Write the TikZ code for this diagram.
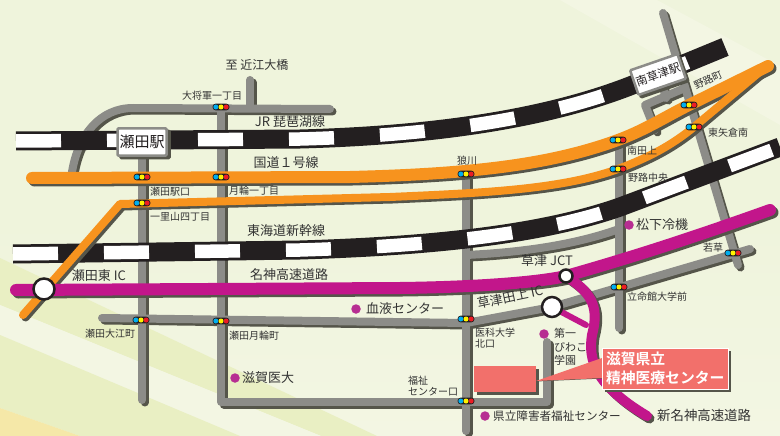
\documentclass[tikz,border=0pt]{standalone}
\usepackage{fontspec}
\setmainfont{Noto Sans CJK JP}[BoldFont={Noto Sans CJK JP Bold}]
\definecolor{bgbase}{HTML}{EFF4DC}
\definecolor{bglight}{HTML}{F3F6E3}
\definecolor{bgband}{HTML}{E9EFC3}
\definecolor{bgyellow}{HTML}{F5E8A8}
\definecolor{roadgray}{HTML}{8C8C88}
\definecolor{shadowgray}{HTML}{55554A}
\definecolor{railblack}{HTML}{231F20}
\definecolor{roadorange}{HTML}{F7931E}
\definecolor{roadmagenta}{HTML}{C2168B}
\definecolor{dotmagenta}{HTML}{B72E92}
\definecolor{calloutred}{HTML}{F2706B}
\definecolor{labelink}{HTML}{333333}
\definecolor{sigblue}{HTML}{00AEEF}
\definecolor{sigyellow}{HTML}{FFF200}
\definecolor{sigred}{HTML}{ED1C24}
\tikzset{
  x=1pt,y=-1pt,
  roadline/.style={line width=8pt,line cap=round,line join=round,draw=roadgray},
  roadshadow/.style={line width=8pt,line cap=round,line join=round,draw=shadowgray,xshift=2.5pt,yshift=-2.5pt},
  railbase/.style={line width=19pt,draw=railblack},
  railwhite/.style={line width=13.5pt,draw=white,dash pattern=on 45pt off 46pt},
  orangeroad/.style={line width=12pt,line cap=round,line join=round,draw=roadorange},
  orangethin/.style={line width=8pt,line cap=round,line join=round,draw=roadorange},
  darkshadow/.style={draw=shadowgray,xshift=2.5pt,yshift=-2.5pt},
  magroad/.style={line width=12pt,line cap=round,line join=round,draw=roadmagenta},
  magthin/.style={line width=10pt,line cap=round,line join=round,draw=roadmagenta},
  tl/.style={font=\fontsize{10}{11}\selectfont,text=labelink,inner sep=0pt},
  ml/.style={font=\fontsize{13}{14}\selectfont,text=labelink,inner sep=0pt},
  spot/.style={circle,fill=dotmagenta,minimum size=9.5pt,inner sep=0pt},
  ic/.style={circle,fill=white,draw=railblack,line width=2.5pt,inner sep=0pt},
  stationbox/.style={draw=roadgray,line width=2.5pt,fill=white,rounded corners=1pt,inner sep=0pt,font=\fontsize{15}{16}\selectfont,text=railblack},
}
\newcommand{\sigl}[2]{%
  \fill[railblack,rounded corners=3.3pt] (#1-8.5,#2-3.4) rectangle (#1+8.5,#2+3.4);
  \fill[sigblue] (#1-5.2,#2) circle (2.5pt);
  \fill[sigyellow] (#1,#2) circle (2.5pt);
  \fill[sigred] (#1+5.2,#2) circle (2.5pt);
}
\begin{document}
\begin{tikzpicture}
\useasboundingbox (0,0) rectangle (780,436);
% background
\shade[top color=bgbase,bottom color=bglight,middle color=bgbase] (0,0) rectangle (780,436);
\fill[bglight] (560,0) -- (657,0) -- (780,66) -- (780,125) -- cycle;
\fill[bgband] (0,258) -- (377,436) -- (321,436) -- (0,305) -- cycle;
\fill[bglight] (0,305) -- (321,436) -- (240,436) -- (0,335) -- cycle;
\fill[bgband] (0,335) -- (240,436) -- (80,436) -- (0,408) -- cycle;
\fill[bgyellow] (0,408) -- (80,436) -- (0,436) -- cycle;

% gray roads : shadows then roads
\def\roadA{(330,109) -- (133,108) .. controls (100,108) and (78,135) .. (72,172)}
\def\roadB{(250,80) -- (250,108)}
\def\roadC{(142,150) -- (142,400)}
\def\roadD{(221,108) -- (221,402) -- (547,402) -- (547,342)}
\def\roadE{(466,175) -- (466,431)}
\def\roadF{(102,318) -- (466,323) -- (552,307) -- (750,249)}
\def\roadG{(619,140) -- (619,328)}
\def\roadH{(466,255) .. controls (530,252) and (580,243) .. (619,229)}
\def\roadI{(663,13) -- (738,265)}
\def\roadJ{(685,88) -- (645,105) -- (655,130)}
\def\roadK{(663,88) -- (666,98)}
\foreach \r in {\roadA,\roadB,\roadC,\roadD,\roadE,\roadF,\roadG,\roadH,\roadI,\roadJ,\roadK}{
  \draw[roadshadow] \r;
}
\foreach \r in {\roadA,\roadB,\roadC,\roadD,\roadE,\roadF,\roadG,\roadH,\roadI,\roadJ,\roadK}{
  \draw[roadline] \r;
}

% railways
\def\jrpath{(16,141) -- (300,139) .. controls (450,135) and (560,115) .. (640,82) -- (725,47)}
\def\shpath{(13,254) -- (300,250) .. controls (430,246) and (540,235) .. (620,207) -- (780,147)}
\draw[railbase] \jrpath;
\draw[railwhite] \jrpath;
\draw[railbase] \shpath;
\draw[railwhite] \shpath;

% orange roads
\def\orA{(32,178) -- (350,177) .. controls (470,174) and (550,165) .. (618,140) .. controls (645,130) and (665,117) .. (689,105) -- (768,66)}
\def\orB{(23,315) -- (120,204) -- (390,197) .. controls (480,193) and (560,190) .. (618,169) .. controls (650,157) and (672,145) .. (694,127) -- (762,70)}
\draw[darkshadow,orangeroad,draw=shadowgray] \orA;
\draw[darkshadow,orangethin,draw=shadowgray] \orB;
\draw[orangeroad] \orA;
\draw[orangethin] \orB;

% magenta roads
\def\maA{(16,290) -- (400,288) .. controls (480,287) and (540,282) .. (566,276) .. controls (640,255) and (700,235) .. (770,210)}
\def\maB{(566,276) .. controls (590,292) and (600,305) .. (592,335) .. controls (588,360) and (595,385) .. (647,416)}
\def\maC{(552,307) -- (586,325)}
\draw[darkshadow,magroad,draw=shadowgray] \maA;
\draw[darkshadow,magthin,draw=shadowgray] \maB;
\draw[magroad] \maA;
\draw[magthin] \maB;
\draw[magthin,line width=6pt] \maC;

% interchange circles
\node[ic,minimum size=21pt] (ichigashi) at (44,289) {};
\node[ic,minimum size=20pt] (ictanagami) at (552,307) {};
\node[ic,minimum size=13pt] (jct) at (566,276) {};

% traffic lights
\sigl{221}{107}\sigl{142}{177}\sigl{221}{177}\sigl{142}{203}\sigl{466}{174}
\sigl{618}{140}\sigl{618}{169}\sigl{689}{105}\sigl{694}{127}\sigl{141}{320}
\sigl{221}{321}\sigl{466}{319}\sigl{619}{287}\sigl{733}{253}\sigl{466}{401}

% stations
\node[stationbox,minimum width=49pt,minimum height=27pt,fill=shadowgray,draw=shadowgray] (setas) at (145,144.5) {};
\node[stationbox,minimum width=49pt,minimum height=27pt] (seta) at (142,142) {瀬田駅};
\node[stationbox,minimum width=50pt,minimum height=26pt,rotate=19,fill=shadowgray,draw=shadowgray] (minamis) at (660.5,77) {};
\node[stationbox,minimum width=50pt,minimum height=26pt,rotate=19,font=\fontsize{11.5}{14}\selectfont] (minami) at (658,74.5) {南草津駅};

% spots
\node[spot] (s1) at (356,309) {};
\node[spot] (s2) at (235,378) {};
\node[spot] (s3) at (629,225) {};
\node[spot] (s4) at (544,334) {};
\node[spot] (s5) at (485,416) {};

% labels
\node[ml,font=\fontsize{12}{13}\selectfont] (a1) at (257,65) {至 近江大橋};
\node[tl] (a2) at (212,96) {大将軍一丁目};
\node[ml] (a3) at (290,122) {JR 琵琶湖線};
\node[ml] (a4) at (286,163) {国道１号線};
\node[tl,anchor=west] (a5) at (150,192) {瀬田駅口};
\node[tl,anchor=west] (a6) at (229,191) {月輪一丁目};
\node[tl,anchor=west] (a7) at (150,217) {一里山四丁目};
\node[ml] (a8) at (286,231) {東海道新幹線};
\node[ml] (a9) at (99,276) {瀬田東 IC};
\node[ml] (a10) at (289,275) {名神高速道路};
\node[tl] (a11) at (110,334) {瀬田大江町};
\node[tl,anchor=west] (a12) at (229,336) {瀬田月輪町};
\node[ml,anchor=west] (a13) at (366,309) {血液センター};
\node[ml,anchor=west] (a14) at (242,378) {滋賀医大};
\node[tl] (a15) at (467,161) {狼川};
\node[tl] (a16) at (642,151) {南田上};
\node[tl] (a17) at (648,178) {野路中央};
\node[tl] (a18) at (728,133) {東矢倉南};
\node[tl,rotate=25] (a19) at (708,80) {野路町};
\node[ml,anchor=west] (a20) at (636,225) {松下冷機};
\node[tl] (a21) at (713,248) {若草};
\node[tl] (a22) at (657,297) {立命館大学前};
\node[ml] (a23) at (547,261) {草津 JCT};
\node[ml,rotate=12] (a24) at (510,297) {草津田上 IC};
\node[tl,anchor=west,align=left,font=\fontsize{10}{10.5}\selectfont] (a25) at (475,338) {医科大学\\北口};
\node[tl,anchor=west,align=left,font=\fontsize{11}{13.5}\selectfont] (a26) at (554,347) {第一\\びわこ\\学園};
\node[tl,anchor=west,align=left,font=\fontsize{10}{11}\selectfont] (a27) at (408,386) {福祉\\センター口};
\node[ml,anchor=west,font=\fontsize{11.6}{13}\selectfont] (a28) at (493,416) {県立障害者福祉センター};
\node[ml,anchor=west,font=\fontsize{13.4}{14}\selectfont] (a29) at (657,415) {新名神高速道路};

% callout
\fill[shadowgray] (536,369) rectangle (539,395);
\fill[shadowgray] (477,392) rectangle (539,395);
\fill[shadowgray] (605,351) rectangle (731,392);
\draw[shadowgray,line width=1pt] (536,381) -- (603,378);
\fill[calloutred] (536,381) -- (602,358) -- (603,378) -- cycle;
\node[fill=calloutred,minimum width=62pt,minimum height=26pt,inner sep=0pt] (bldg) at (505,379) {};
\node[fill=calloutred,draw=white,line width=0.6pt,minimum width=126pt,minimum height=41pt,inner sep=0pt,text=white,font=\bfseries\fontsize{14.8}{19}\selectfont,align=left,text width=118pt] (call) at (665,368.5) {滋賀県立\\精神医療センター};
\end{tikzpicture}
\end{document}
